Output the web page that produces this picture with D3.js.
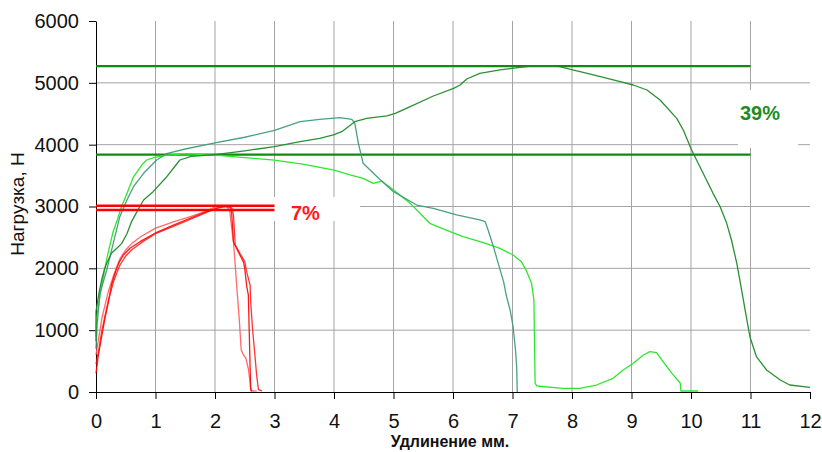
<!DOCTYPE html>
<html>
<head>
<meta charset="utf-8">
<script src="https://cdn.jsdelivr.net/npm/d3@7"></script>
<style>
  body { margin: 0; background: #fff; }
  svg { display: block; }
  text { font-family: "Liberation Sans", Arial, sans-serif; }
</style>
</head>
<body>
<svg id="chart" width="822" height="452"></svg>
<script>
// Axis ticks
const xTickValues = [0, 1, 2, 3, 4, 5, 6, 7, 8, 9, 10, 11, 12];
const yTickValues = [0, 1000, 2000, 3000, 4000, 5000, 6000];
const xGridValues = [1, 2, 3, 4, 5, 6, 7, 8, 9, 10, 11];
const yGridValues = [1000, 2000, 3000, 4000, 5000];

// Load–elongation curves, [elongation mm, load N]
const greenDark = [
  [0, 820], [0, 1300], [0.05, 1600], [0.095, 1811], [0.14, 1980], [0.18, 2081], [0.26, 2243],
  [0.35, 2324], [0.43, 2400], [0.52, 2560], [0.60, 2760], [0.68, 2900], [0.80, 3105],
  [0.96, 3240], [1.19, 3482], [1.41, 3752], [1.6, 3810], [2.0, 3840], [2.5, 3900],
  [3.0, 3970], [3.43, 4049], [3.76, 4103], [3.99, 4157], [4.13, 4210], [4.35, 4372],
  [4.55, 4426], [4.89, 4464], [5.03, 4507], [5.28, 4614], [5.67, 4787], [6.01, 4911],
  [6.12, 4965], [6.23, 5062], [6.45, 5154], [6.79, 5208], [7.13, 5251], [7.35, 5273],
  [7.74, 5273], [7.91, 5235], [8.36, 5127], [8.81, 5019], [9.03, 4965], [9.26, 4884],
  [9.48, 4723], [9.76, 4426], [9.87, 4237], [10.01, 3914], [10.26, 3429], [10.37, 3213],
  [10.49, 2997], [10.60, 2728], [10.68, 2458], [10.77, 2081], [10.85, 1650], [10.94, 1164],
  [10.99, 894], [11.10, 571], [11.27, 356], [11.50, 194], [11.66, 113], [12.0, 76]
];
const greenTeal = [
  [0, 700], [0.02, 1100], [0.067, 1596], [0.18, 1973], [0.29, 2405], [0.40, 2836],
  [0.52, 3105], [0.63, 3320], [0.80, 3537], [1.02, 3752], [1.2, 3860], [1.5, 3930],
  [2.0, 4030], [2.5, 4120], [3.0, 4230], [3.43, 4372], [3.76, 4410], [4.10, 4437],
  [4.30, 4410], [4.35, 4345], [4.41, 4022], [4.49, 3699], [4.52, 3671], [4.75, 3456],
  [5.0, 3240], [5.39, 3024], [5.67, 2970], [6.06, 2863], [6.45, 2782], [6.54, 2755],
  [6.59, 2620], [6.68, 2350], [6.76, 2081], [6.85, 1784], [6.90, 1542], [6.96, 1326],
  [7.01, 1056], [7.05, 679], [7.07, 409], [7.08, 0]
];
const greenBright = [
  [0, 900], [0.01, 1200], [0.07, 1580], [0.12, 1850], [0.18, 2150], [0.235, 2380],
  [0.29, 2600], [0.35, 2760], [0.43, 3000], [0.52, 3210], [0.63, 3480], [0.77, 3671],
  [0.85, 3752], [1.0, 3800], [1.2, 3830], [1.5, 3850], [2.0, 3830], [2.5, 3790],
  [3.0, 3750], [3.5, 3680], [4.0, 3590], [4.27, 3510], [4.49, 3456], [4.66, 3375],
  [4.80, 3412], [5.0, 3267], [5.28, 3051], [5.61, 2728], [5.95, 2593], [6.17, 2512],
  [6.51, 2415], [6.79, 2324], [7.01, 2216], [7.15, 2108], [7.24, 1946], [7.32, 1758],
  [7.36, 1488], [7.38, 141], [7.41, 97], [7.85, 59], [8.13, 59], [8.41, 113], [8.69, 221],
  [8.86, 356], [9.03, 464], [9.20, 598], [9.31, 652], [9.42, 636], [9.53, 491],
  [9.68, 302], [9.82, 141], [9.83, 16], [10.12, 16]
];
const redA = [
  [0, 600], [0.05, 900], [0.1, 1200], [0.2, 1600], [0.3, 1900], [0.4, 2150], [0.5, 2300],
  [0.6, 2400], [0.75, 2510], [1.0, 2650], [1.3, 2750], [1.6, 2840], [1.86, 2930],
  [2.0, 2990], [2.1, 3010], [2.2, 3000], [2.25, 2920], [2.28, 2650], [2.31, 2430],
  [2.34, 2050], [2.37, 1650], [2.41, 1150], [2.44, 680], [2.48, 600], [2.52, 545],
  [2.56, 380], [2.59, 160], [2.60, 20], [2.70, 15]
];
const redB = [
  [0, 300], [0.04, 600], [0.1, 920], [0.15, 1190], [0.21, 1460], [0.26, 1730], [0.32, 1920],
  [0.38, 2080], [0.46, 2216], [0.57, 2324], [0.74, 2431], [1.02, 2583], [1.3, 2700],
  [1.58, 2810], [1.86, 2916], [2.03, 2970], [2.15, 3000], [2.25, 2990], [2.28, 2900],
  [2.31, 2430], [2.39, 2270], [2.48, 2100], [2.50, 2000], [2.53, 1730], [2.56, 1570],
  [2.58, 800], [2.59, 400], [2.60, 60], [2.62, 10]
];
const redC = [
  [0, 450], [0.05, 700], [0.1, 1000], [0.2, 1450], [0.3, 1800], [0.4, 2050], [0.5, 2200],
  [0.6, 2300], [0.8, 2440], [1.0, 2560], [1.3, 2680], [1.6, 2800], [1.9, 2920],
  [2.05, 2980], [2.2, 3010], [2.28, 2980], [2.31, 2860], [2.34, 2380], [2.42, 2240],
  [2.50, 2110], [2.53, 1950], [2.59, 1730], [2.60, 1460], [2.63, 1030], [2.67, 600],
  [2.70, 270], [2.73, 40], [2.79, 20]
];

// Reference levels: maximum and yield lines, with their spans in mm
const greenLevels = [5270, 3840];
const greenLevelSpan = [0, 11];
const redLevels = [3013, 2944];
const redLevelSpan = [0, 3];

// Elongation annotations (position in data units, white backing box)
const annotations = [
  { text: "39%", x: 11.16, y: 4399, color: "#1f8c1f", box: [10.79, 11.8, 3946, 4883] },
  { text: "7%", x: 3.52, y: 2782, color: "#ff1a1a", box: [2.92, 4.44, 2766, 3154] }
];

const W = 822, H = 452;
const margin = { top: 21, right: 12, bottom: 60, left: 96 };

const x = d3.scaleLinear().domain([0, 12]).range([margin.left, W - margin.right]);
const y = d3.scaleLinear().domain([0, 6000]).range([H - margin.bottom, margin.top]);

const svg = d3.select("#chart");

// Grid
const grid = svg.append("g").attr("stroke", "#a3a3a3").attr("stroke-width", 1);
grid.selectAll(".vg").data(xGridValues).join("line")
  .attr("x1", d => x(d)).attr("x2", d => x(d))
  .attr("y1", y(0)).attr("y2", y(6000));
grid.selectAll(".hg").data(yGridValues).join("line")
  .attr("x1", x(0)).attr("x2", x(12))
  .attr("y1", d => y(d)).attr("y2", d => y(d));

// White boxes behind annotations
svg.append("g").selectAll("rect").data(annotations).join("rect")
  .attr("x", d => x(d.box[0])).attr("width", d => x(d.box[1]) - x(d.box[0]))
  .attr("y", d => y(d.box[3])).attr("height", d => y(d.box[2]) - y(d.box[3]))
  .attr("fill", "#fff");

// Axes
const yAxis = d3.axisLeft(y).tickValues(yTickValues).tickFormat(d3.format("d"))
  .tickSize(7).tickSizeOuter(0).tickPadding(10);
const xAxis = d3.axisBottom(x).tickValues(xTickValues).tickFormat(d3.format("d"))
  .tickSize(7).tickSizeOuter(0).tickPadding(15);

const gy = svg.append("g").attr("transform", `translate(${margin.left},0)`).call(yAxis);
const gx = svg.append("g").attr("transform", `translate(0,${H - margin.bottom})`).call(xAxis);
[gx, gy].forEach(g => {
  g.selectAll("text").attr("font-size", 20).attr("fill", "#111")
    .attr("font-family", '"Liberation Sans", Arial, sans-serif');
  g.selectAll("path, line").attr("stroke", "#000");
});

// Axis titles
svg.append("text")
  .attr("x", 450).attr("y", 447)
  .attr("text-anchor", "middle")
  .attr("font-size", 16).attr("font-weight", "bold").attr("fill", "#111")
  .text("Удлинение мм.");
svg.append("text")
  .attr("transform", "translate(24,204) rotate(-90)")
  .attr("text-anchor", "middle")
  .attr("font-size", 19).attr("fill", "#111")
  .text("Нагрузка, Н");

const line = d3.line().x(d => x(d[0])).y(d => y(d[1]));

// Level lines
svg.append("g").selectAll("line").data(greenLevels).join("line")
  .attr("x1", x(greenLevelSpan[0])).attr("x2", x(greenLevelSpan[1]))
  .attr("y1", d => y(d)).attr("y2", d => y(d))
  .attr("stroke", "#128a12").attr("stroke-width", 2.2);

// Curves
const curves = [
  { data: greenBright, color: "#2fe62f", opacity: 1 },
  { data: greenTeal, color: "#3f9c78", opacity: 0.95 },
  { data: greenDark, color: "#1f8a28", opacity: 0.95 },
  { data: redA, color: "#ff5a5a", opacity: 0.9 },
  { data: redB, color: "#ff0000", opacity: 0.9 },
  { data: redC, color: "#ff1010", opacity: 0.85 }
];
svg.append("g").selectAll("path").data(curves).join("path")
  .attr("d", d => line(d.data))
  .attr("fill", "none")
  .attr("stroke", d => d.color)
  .attr("stroke-opacity", d => d.opacity)
  .attr("stroke-width", 1.3)
  .attr("stroke-linejoin", "round");

svg.append("g").selectAll("line").data(redLevels).join("line")
  .attr("x1", x(redLevelSpan[0])).attr("x2", x(redLevelSpan[1]))
  .attr("y1", d => y(d)).attr("y2", d => y(d))
  .attr("stroke", "#ff0000").attr("stroke-width", 2.4);

// Annotation labels
svg.append("g").selectAll("text").data(annotations).join("text")
  .attr("x", d => x(d.x)).attr("y", d => y(d.y))
  .attr("text-anchor", "middle")
  .attr("font-size", 20).attr("font-weight", "bold")
  .attr("fill", d => d.color)
  .text(d => d.text);
</script>
</body>
</html>
